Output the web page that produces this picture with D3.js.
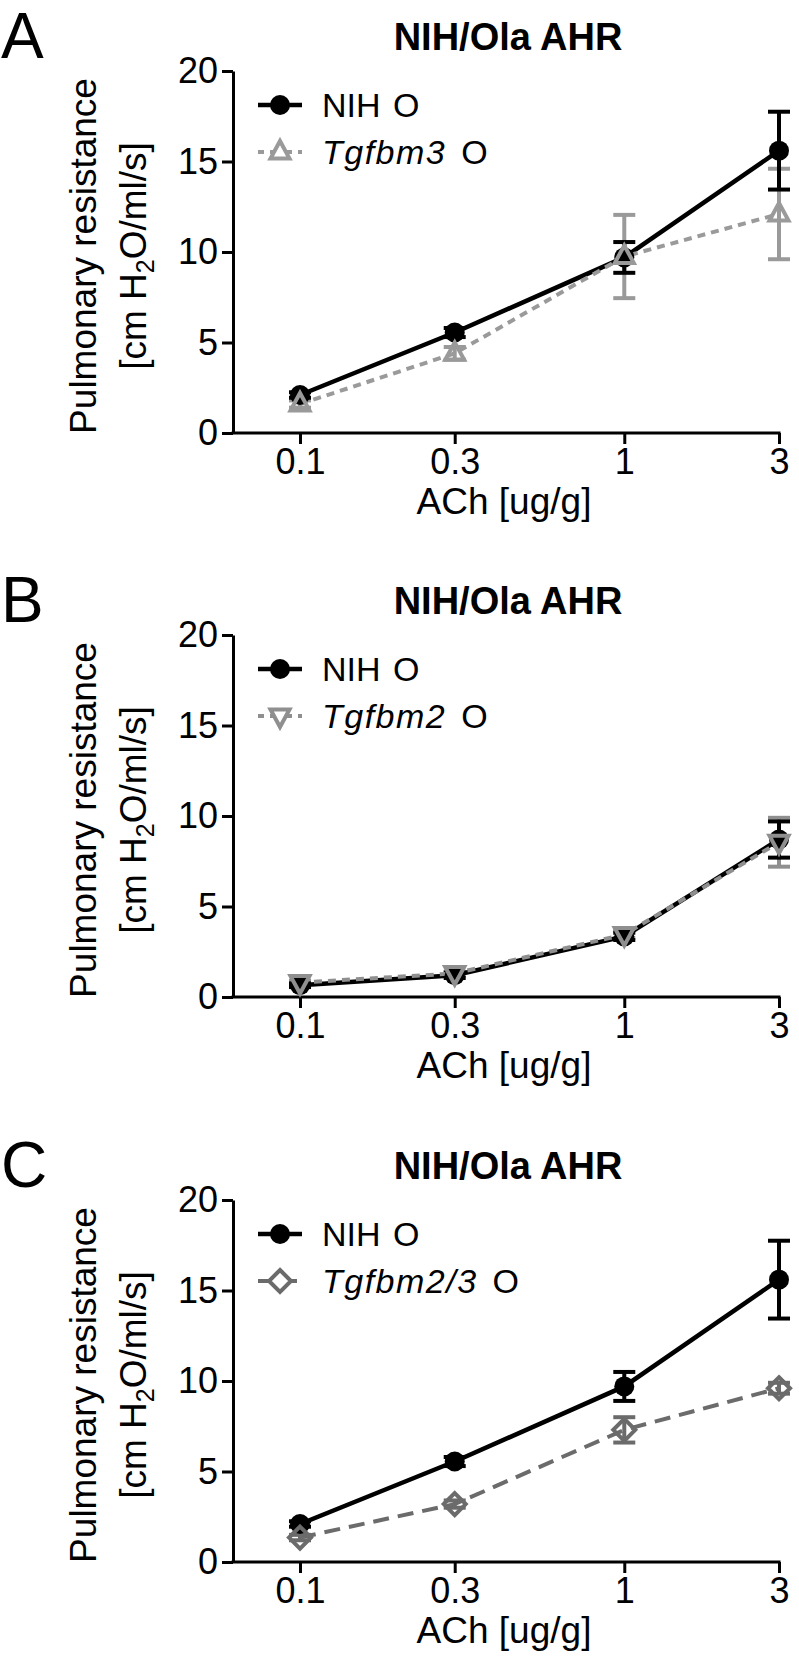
<!DOCTYPE html>
<html>
<head>
<meta charset="UTF-8">
<title>NIH/Ola AHR</title>
<script src="https://cdn.jsdelivr.net/npm/d3@7"></script>
<style>
  body { margin: 0; background: #fff; }
  svg text { font-family: "Liberation Sans", Arial, Helvetica, sans-serif; }
</style>
</head>
<body>
<svg id="chart" width="799" height="1668"></svg>
<script>
// x categories (ACh dose) and y ticks
var doses = [0.1, 0.3, 1, 3];
var doseLabels = ["0.1", "0.3", "1", "3"];
var yTicks = [0, 5, 10, 15, 20];

// panel A
var nihA = [2.1, 5.55, 9.7, 15.6];
var nihAErr = [0.15, 0.25, 0.85, 2.15];
var tgfbm3 = [1.6, 4.4, 9.75, 12.1];
var tgfbm3Err = [0.2, 0.35, 2.3, 2.5];

// panel B
var nihB = [0.65, 1.2, 3.35, 8.7];
var nihBErr = [0.1, 0.15, 0.2, 1.0];
var tgfbm2 = [0.8, 1.3, 3.45, 8.55];
var tgfbm2Err = [0.1, 0.1, 0.2, 1.35];

// panel C
var nihC = [2.1, 5.55, 9.7, 15.6];
var nihCErr = [0.15, 0.25, 0.8, 2.15];
var tgfbm23 = [1.35, 3.2, 7.3, 9.6];
var tgfbm23Err = [0.15, 0.2, 0.7, 0.3];

var panelLetters = ["A", "B", "C"];
var panelTitle = "NIH/Ola AHR";
var controlName = "NIH O";
var mutantNames = ["Tgfbm3", "Tgfbm2", "Tgfbm2/3"];

var font = '"Liberation Sans", Arial, Helvetica, sans-serif';

// shape paths for the hollow markers
function triUp() { return "M0,-11L9.5,6.5L-9.5,6.5Z"; }
function triDown() { return "M0,11L9.5,-6.5L-9.5,-6.5Z"; }
function diamond() { return "M0,-11L11,0L0,11L-11,0Z"; }

var panels = [
    { top: 0, control: nihA, controlErr: nihAErr, mutant: tgfbm3, mutantErr: tgfbm3Err,
      color: "#9a9a9a", dash: "8,6", shape: triUp },
    { top: 564, control: nihB, controlErr: nihBErr, mutant: tgfbm2, mutantErr: tgfbm2Err,
      color: "#8f8f8f", dash: "8,6", shape: triDown },
    { top: 1129, control: nihC, controlErr: nihCErr, mutant: tgfbm23, mutantErr: tgfbm23Err,
      color: "#6b6b6b", dash: "16,9", shape: diamond }
];

var svg = d3.select("#chart");

var x = d3.scaleLog().domain([0.1, 3]).range([300, 779]);
var y = d3.scaleLinear().domain([0, 20]).range([433, 71]);
var xLeft = 233;

var line = d3.line()
    .x(function(d) { return x(d.dose); })
    .y(function(d) { return y(d.v); });

function points(vals, errs) {
    return doses.map(function(d, i) { return { dose: d, v: vals[i], e: errs[i] }; });
}

function errorBars(g, pts, color) {
    var eb = g.append("g").selectAll("g").data(pts).enter().append("g")
        .attr("stroke", color).attr("stroke-width", 4);
    eb.append("line")
        .attr("x1", function(d) { return x(d.dose); })
        .attr("x2", function(d) { return x(d.dose); })
        .attr("y1", function(d) { return y(d.v - d.e); })
        .attr("y2", function(d) { return y(d.v + d.e); });
    [-1, 1].forEach(function(s) {
        eb.append("line")
            .attr("x1", function(d) { return x(d.dose) - 11; })
            .attr("x2", function(d) { return x(d.dose) + 11; })
            .attr("y1", function(d) { return y(d.v + s * d.e); })
            .attr("y2", function(d) { return y(d.v + s * d.e); });
    });
}

panels.forEach(function(p, pi) {
    var g = svg.append("g").attr("transform", "translate(0," + p.top + ")");
    var ctrl = points(p.control, p.controlErr);
    var mut = points(p.mutant, p.mutantErr);

    // panel letter and title
    g.append("text").attr("x", 1).attr("y", 58)
        .attr("font-size", 64).text(panelLetters[pi]);
    g.append("text").attr("x", (xLeft + 779) / 2 + 2).attr("y", 50)
        .attr("text-anchor", "middle").attr("font-size", 38).attr("font-weight", "bold")
        .text(panelTitle);

    // y axis
    var ya = g.append("g").attr("transform", "translate(" + xLeft + ",0)")
        .call(d3.axisLeft(y).tickValues(yTicks).tickSize(11).tickSizeOuter(0).tickPadding(4));
    ya.attr("font-size", 36).attr("font-family", font);
    ya.selectAll("line, path").attr("stroke", "#000").attr("stroke-width", 3);
    ya.selectAll("text").attr("fill", "#000");

    // x axis
    var xa = g.append("g").attr("transform", "translate(0," + y(0) + ")")
        .call(d3.axisBottom(x).tickValues(doses)
            .tickFormat(function(d, i) { return doseLabels[i]; })
            .tickSize(11).tickSizeOuter(0).tickPadding(4));
    xa.attr("font-size", 36).attr("font-family", font);
    xa.select(".domain").remove();
    xa.selectAll("line").attr("stroke", "#000").attr("stroke-width", 3);
    xa.selectAll("text").attr("fill", "#000");
    g.append("line").attr("x1", xLeft - 1.5).attr("x2", x(3) + 1.5)
        .attr("y1", y(0)).attr("y2", y(0))
        .attr("stroke", "#000").attr("stroke-width", 3);

    // axis titles
    g.append("text").attr("x", (xLeft + 779) / 2 - 2).attr("y", 514)
        .attr("text-anchor", "middle").attr("font-size", 37).text("ACh [ug/g]");
    var yl = g.append("g").attr("transform", "translate(0," + ((y(0) + y(20)) / 2 + 4) + ") rotate(-90)");
    yl.append("text").attr("x", 0).attr("y", 96)
        .attr("text-anchor", "middle").attr("font-size", 37).text("Pulmonary resistance");
    var t2 = yl.append("text").attr("x", 0).attr("y", 146)
        .attr("text-anchor", "middle").attr("font-size", 37);
    t2.append("tspan").text("[cm H");
    t2.append("tspan").attr("font-size", 25).attr("dy", 8).text("2");
    t2.append("tspan").attr("dy", -8).text("O/ml/s]");

    // error bars
    errorBars(g, mut, p.color);
    errorBars(g, ctrl, "#000");

    // lines
    g.append("path").datum(ctrl).attr("d", line)
        .attr("fill", "none").attr("stroke", "#000").attr("stroke-width", 4.5);
    g.append("path").datum(mut).attr("d", line)
        .attr("fill", "none").attr("stroke", p.color).attr("stroke-width", 4)
        .attr("stroke-dasharray", p.dash);

    // markers
    g.append("g").selectAll("circle").data(ctrl).enter().append("circle")
        .attr("cx", function(d) { return x(d.dose); })
        .attr("cy", function(d) { return y(d.v); })
        .attr("r", 10).attr("fill", "#000");
    g.append("g").selectAll("path").data(mut).enter().append("path")
        .attr("transform", function(d) { return "translate(" + x(d.dose) + "," + y(d.v) + ")"; })
        .attr("d", p.shape)
        .attr("fill", "none").attr("stroke", p.color).attr("stroke-width", 4)
        .attr("stroke-linejoin", "miter");

    // legend
    var lg = g.append("g");
    lg.append("line").attr("x1", 258).attr("x2", 302).attr("y1", 105).attr("y2", 105)
        .attr("stroke", "#000").attr("stroke-width", 4.5);
    lg.append("circle").attr("cx", 280).attr("cy", 105).attr("r", 10).attr("fill", "#000");
    lg.append("text").attr("x", 322).attr("y", 117).attr("font-size", 34)
        .attr("word-spacing", 3).text(controlName);

    lg.append("line").attr("x1", 258).attr("x2", 302).attr("y1", 152).attr("y2", 152)
        .attr("stroke", p.color).attr("stroke-width", 4).attr("stroke-dasharray", p.dash)
        .attr("stroke-dashoffset", 2);
    lg.append("path").attr("transform", "translate(280,152)").attr("d", p.shape)
        .attr("fill", "#fff").attr("stroke", p.color).attr("stroke-width", 4);
    var lt = lg.append("text").attr("x", 322).attr("y", 164).attr("font-size", 34)
        .attr("letter-spacing", 1.5).attr("word-spacing", 4);
    lt.append("tspan").attr("font-style", "italic").text(mutantNames[pi]);
    lt.append("tspan").text(" O");
});
</script>
</body>
</html>
